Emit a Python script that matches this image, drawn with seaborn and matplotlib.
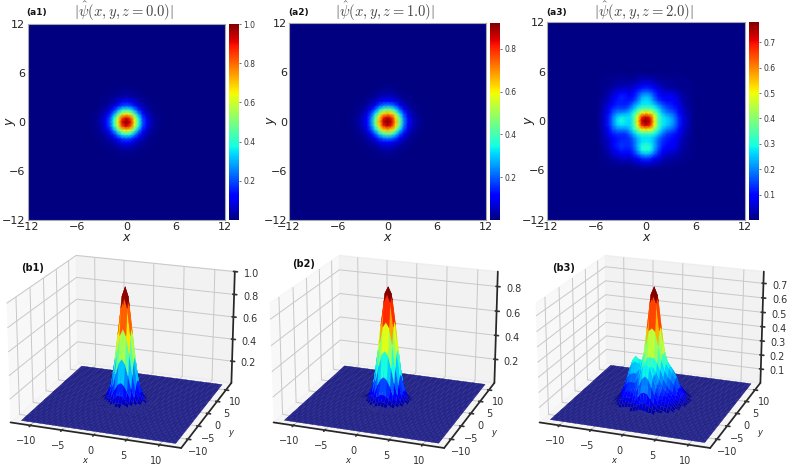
import numpy as np
import pandas as pd
import matplotlib
matplotlib.use("Agg")
import matplotlib.pyplot as plt
from matplotlib.colors import ListedColormap
import seaborn as sns

# values, grid step 0.5, x and y from 0 to 4.5 (first two panels are symmetric)
quad_z0 = [
    [1.00, .920, .660, .410, .210, .110, .050, .025, .012, .006],
    [.920, .830, .600, .370, .190, .100, .045, .020, .010, .005],
    [.660, .600, .450, .270, .140, .070, .035, .015, .008, .004],
    [.410, .370, .270, .160, .085, .040, .020, .010, .005, .003],
    [.210, .190, .140, .085, .045, .025, .012, .007, .004, .002],
    [.110, .100, .070, .040, .025, .014, .008, .004, .002, .001],
    [.050, .045, .035, .020, .012, .008, .004, .002, .001, .000],
    [.025, .020, .015, .010, .007, .004, .002, .001, .000, .000],
    [.012, .010, .008, .005, .004, .002, .001, .000, .000, .000],
    [.006, .005, .004, .003, .002, .001, .000, .000, .000, .000],
]
quad_z1 = [
    [.920, .870, .660, .440, .240, .110, .060, .030, .015, .008],
    [.870, .810, .620, .410, .220, .100, .055, .027, .013, .007],
    [.660, .620, .490, .310, .170, .080, .040, .020, .010, .005],
    [.440, .410, .310, .190, .100, .050, .025, .012, .007, .004],
    [.240, .220, .170, .100, .055, .030, .015, .008, .005, .003],
    [.110, .100, .080, .050, .030, .017, .009, .005, .003, .002],
    [.060, .055, .040, .025, .015, .009, .005, .003, .002, .001],
    [.030, .027, .020, .012, .008, .005, .003, .002, .001, .001],
    [.015, .013, .010, .007, .005, .003, .002, .001, .001, .000],
    [.008, .007, .005, .004, .003, .002, .001, .001, .000, .000],
]
# z = 2 is not symmetric: rows y = 5.5 ... -5.5, columns x = -5.5 ... 5.5
full_z2 = [
    [.00, .01, .01, .01, .01, .01, .01, .01, .01, .02, .02, .02, .02, .02, .01, .01, .01, .01, .01, .01, .01, .00, .00],
    [.01, .01, .01, .01, .02, .02, .02, .02, .02, .03, .04, .04, .04, .03, .02, .02, .02, .01, .01, .01, .01, .01, .00],
    [.01, .01, .01, .02, .02, .03, .03, .03, .04, .05, .07, .07, .07, .05, .04, .03, .02, .02, .02, .01, .01, .01, .01],
    [.01, .01, .02, .03, .04, .05, .05, .05, .06, .09, .11, .12, .11, .09, .06, .04, .03, .03, .02, .02, .01, .01, .01],
    [.01, .02, .03, .05, .07, .08, .08, .07, .09, .13, .17, .18, .17, .13, .09, .07, .06, .06, .05, .03, .02, .01, .01],
    [.01, .02, .04, .07, .10, .12, .11, .09, .11, .16, .22, .24, .22, .16, .11, .08, .08, .09, .07, .05, .03, .02, .01],
    [.02, .03, .05, .08, .11, .12, .11, .11, .14, .19, .25, .27, .25, .19, .14, .11, .10, .10, .08, .06, .03, .02, .01],
    [.02, .04, .06, .10, .12, .12, .12, .14, .20, .24, .28, .28, .28, .25, .20, .16, .13, .12, .10, .07, .04, .02, .01],
    [.02, .05, .09, .13, .15, .15, .15, .19, .24, .30, .35, .36, .35, .31, .26, .20, .16, .14, .12, .08, .05, .03, .02],
    [.03, .05, .10, .16, .20, .21, .22, .24, .30, .40, .50, .53, .50, .41, .31, .24, .20, .18, .15, .10, .06, .03, .02],
    [.03, .06, .12, .19, .25, .28, .27, .27, .34, .50, .68, .73, .68, .50, .35, .28, .25, .22, .18, .12, .07, .04, .02],
    [.03, .06, .12, .20, .27, .30, .28, .26, .33, .52, .73, .78, .73, .52, .34, .28, .26, .24, .19, .12, .07, .04, .02],
    [.03, .06, .12, .19, .25, .27, .26, .26, .33, .50, .68, .73, .68, .50, .35, .28, .25, .22, .18, .12, .07, .04, .02],
    [.03, .05, .10, .16, .19, .20, .20, .23, .30, .40, .50, .52, .50, .41, .31, .24, .20, .18, .15, .10, .06, .03, .02],
    [.02, .04, .08, .12, .14, .14, .14, .18, .24, .29, .33, .33, .33, .30, .25, .19, .15, .13, .11, .08, .05, .03, .02],
    [.02, .04, .06, .09, .11, .12, .12, .14, .19, .24, .27, .27, .27, .24, .19, .15, .12, .11, .09, .06, .04, .02, .01],
    [.02, .03, .05, .08, .11, .13, .13, .13, .17, .23, .27, .28, .27, .23, .17, .13, .11, .10, .08, .06, .03, .02, .01],
    [.01, .03, .05, .09, .12, .14, .13, .13, .17, .24, .30, .31, .30, .24, .17, .12, .10, .10, .08, .05, .03, .02, .01],
    [.01, .02, .04, .07, .10, .12, .11, .11, .15, .22, .29, .31, .29, .22, .15, .10, .08, .07, .06, .04, .02, .01, .01],
    [.01, .02, .03, .05, .07, .08, .08, .08, .12, .17, .22, .24, .22, .17, .12, .07, .05, .05, .04, .03, .02, .01, .01],
    [.01, .01, .02, .03, .04, .05, .05, .05, .07, .10, .13, .14, .13, .10, .07, .05, .03, .03, .02, .02, .01, .01, .01],
    [.01, .01, .01, .02, .02, .03, .03, .03, .04, .05, .07, .07, .07, .05, .04, .03, .02, .02, .01, .01, .01, .01, .00],
    [.00, .01, .01, .01, .01, .01, .01, .01, .02, .02, .03, .03, .03, .02, .02, .01, .01, .01, .01, .01, .00, .00, .00],
]
background = [0.0, 0.002, 0.006]

grid_ticks = [-12, -6, 0, 6, 12]
z_labels = ["0.0", "1.0", "2.0"]
vmax_list = [1.0, 0.92, 0.78]
cbar_ticks = [[.2, .4, .6, .8, 1.0], [.2, .4, .6, .8], [.1, .2, .3, .4, .5, .6, .7]]
surf_ticks = [[.2, .4, .6, .8, 1.0], [.2, .4, .6, .8], [.1, .2, .3, .4, .5, .6, .7]]
tags_a = ["(a1)", "(a2)", "(a3)"]
tags_b = ["(b1)", "(b2)", "(b3)"]

# pixel boxes in the 795x467 picture: left, top, right, bottom
map_boxes = [(27.5, 24, 225, 220), (289, 23, 486, 220), (547, 22, 745, 220)]
cbar_boxes = [(229, 24, 239, 220), (490, 23, 500, 220), (749, 22, 759, 220)]
surf_boxes = [(-14, 231, 258, 466), (249, 231, 521, 466), (515, 231, 787, 466)]

W, H = 795, 467

sns.set_theme(style="white")
plt.rcParams.update({"mathtext.fontset": "cm", "font.family": ["DejaVu Sans"],
                     "grid.color": "#c8c8c8", "grid.linewidth": 0.7})

fig = plt.figure(figsize=(W / 100, H / 100), dpi=100)


def add_box(box, **kw):
    l, t, r, b = box
    return fig.add_axes([l / W, 1 - b / H, (r - l) / W, (b - t) / H], **kw)


def mirror(quad):
    q = np.array(quad)
    right = np.vstack([q[:0:-1], q])
    return np.hstack([right[:, :0:-1], right])


# surface map: jet with the paler navy of the floor
surf_colors = plt.get_cmap("jet")(np.linspace(0, 1, 256))
surf_colors[:8, :3] = [0.17, 0.17, 0.58]
surf_cmap = ListedColormap(surf_colors)

raw_fields = [mirror(quad_z0), mirror(quad_z1), np.array(full_z2)[::-1]]
# outside the tables the field is the flat background
fields = [np.pad(np.maximum(f, background[k]), (49 - f.shape[0]) // 2, constant_values=background[k])
          for k, f in enumerate(raw_fields)]
coords = np.arange(-12, 12.5, 0.5)

for i, field in enumerate(fields):
    ax = add_box(map_boxes[i])
    cax = add_box(cbar_boxes[i])
    df = pd.DataFrame(field, index=coords, columns=coords)
    sns.heatmap(df, ax=ax, cbar_ax=cax, cmap="jet", vmin=0, vmax=vmax_list[i],
                shading="gouraud", xticklabels=False, yticklabels=False,
                cbar_kws={"ticks": cbar_ticks[i]})
    ax.set_xlim(0, 48)
    ax.set_ylim(0, 48)
    pos = [(t + 12) * 2 for t in grid_ticks]
    lbl = [str(t).replace("-", "\u2212") for t in grid_ticks]
    ax.set_xticks(pos, lbl)
    ax.set_yticks(pos, lbl)
    ax.tick_params(labelsize=8, length=0, pad=1.5, colors="#222222")
    for s in ax.spines.values():
        s.set_visible(True)
        s.set_color("#a8a8a8")
        s.set_linewidth(0.8)
    cax.tick_params(labelsize=5.5, length=1.5, width=0.5, pad=1.5, colors="#333333")
    l, t, r, b = map_boxes[i]
    fig.text((l + r) / 2 / W, 1 - 238 / H, "x", style="italic", fontsize=9,
             ha="center", va="center", color="#222222")
    fig.text((l - 18) / W, 1 - (t + b) / 2 / H, "y", style="italic", fontsize=9, rotation=90,
             ha="center", va="center", color="#222222")
    fig.text((l + r) / 2 / W - 0.003, 1 - 11 / H,
             r"$|\hat{\psi}(x,y,z=%s)|$" % z_labels[i], fontsize=10.5,
             ha="center", va="center", color="#444444")
    fig.text((l - 1) / W, 1 - 13 / H, tags_a[i], fontsize=6.5, fontweight="bold",
             ha="left", va="center", color="#111111")

    # lower row, same field as a surface
    ax3 = add_box(surf_boxes[i], projection="3d")
    ax3.view_init(elev=20, azim=-70)
    ax3.set_box_aspect((4, 4, 2.8), zoom=1.14)
    X, Y = np.meshgrid(coords, coords)
    # colour of a cell from the mean of its corners
    cell = (field[:-1, :-1] + field[1:, :-1] + field[:-1, 1:] + field[1:, 1:]) / 4
    face = surf_cmap(np.pad(cell, ((0, 1), (0, 1)), mode="edge") / (vmax_list[i] * 0.93))
    surf = ax3.plot_surface(X, Y, field, facecolors=face, rstride=1, cstride=1,
                            linewidth=0.25, shade=False)
    # only the low part of the surface shows its mesh
    edge = face[:-1, :-1].copy()
    edge[cell < 0.05] = [0.08, 0.08, 0.48, 1.0]
    surf.set_edgecolor(edge.reshape(-1, 4))
    ax3.set_xlim(-13.2, 13.2)
    ax3.set_ylim(-13.2, 13.2)
    ax3.set_zlim(0, vmax_list[i])
    ax3.set_xticks([-10, -5, 0, 5, 10])
    ax3.set_yticks([-10, -5, 0, 5, 10])
    ax3.set_zticks(surf_ticks[i])
    ax3.tick_params(axis="x", labelsize=7, pad=-3, colors="#333333")
    ax3.tick_params(axis="y", labelsize=7, pad=-3, colors="#333333")
    ax3.tick_params(axis="z", labelsize=7, pad=-1, colors="#333333")
    ax3.set_xlabel("x", fontsize=6, style="italic", labelpad=-9)
    ax3.set_ylabel("y", fontsize=6, style="italic", labelpad=-9)
    ax3.grid(True)
    ax3.patch.set_alpha(0)

for i, (x, y) in enumerate([(21, 268), (292, 264), (552, 268)]):
    fig.text(x / W, 1 - y / H, tags_b[i], fontsize=7, fontweight="bold",
             ha="left", va="center", color="#111111")

fig.savefig("out.png", dpi=100)
